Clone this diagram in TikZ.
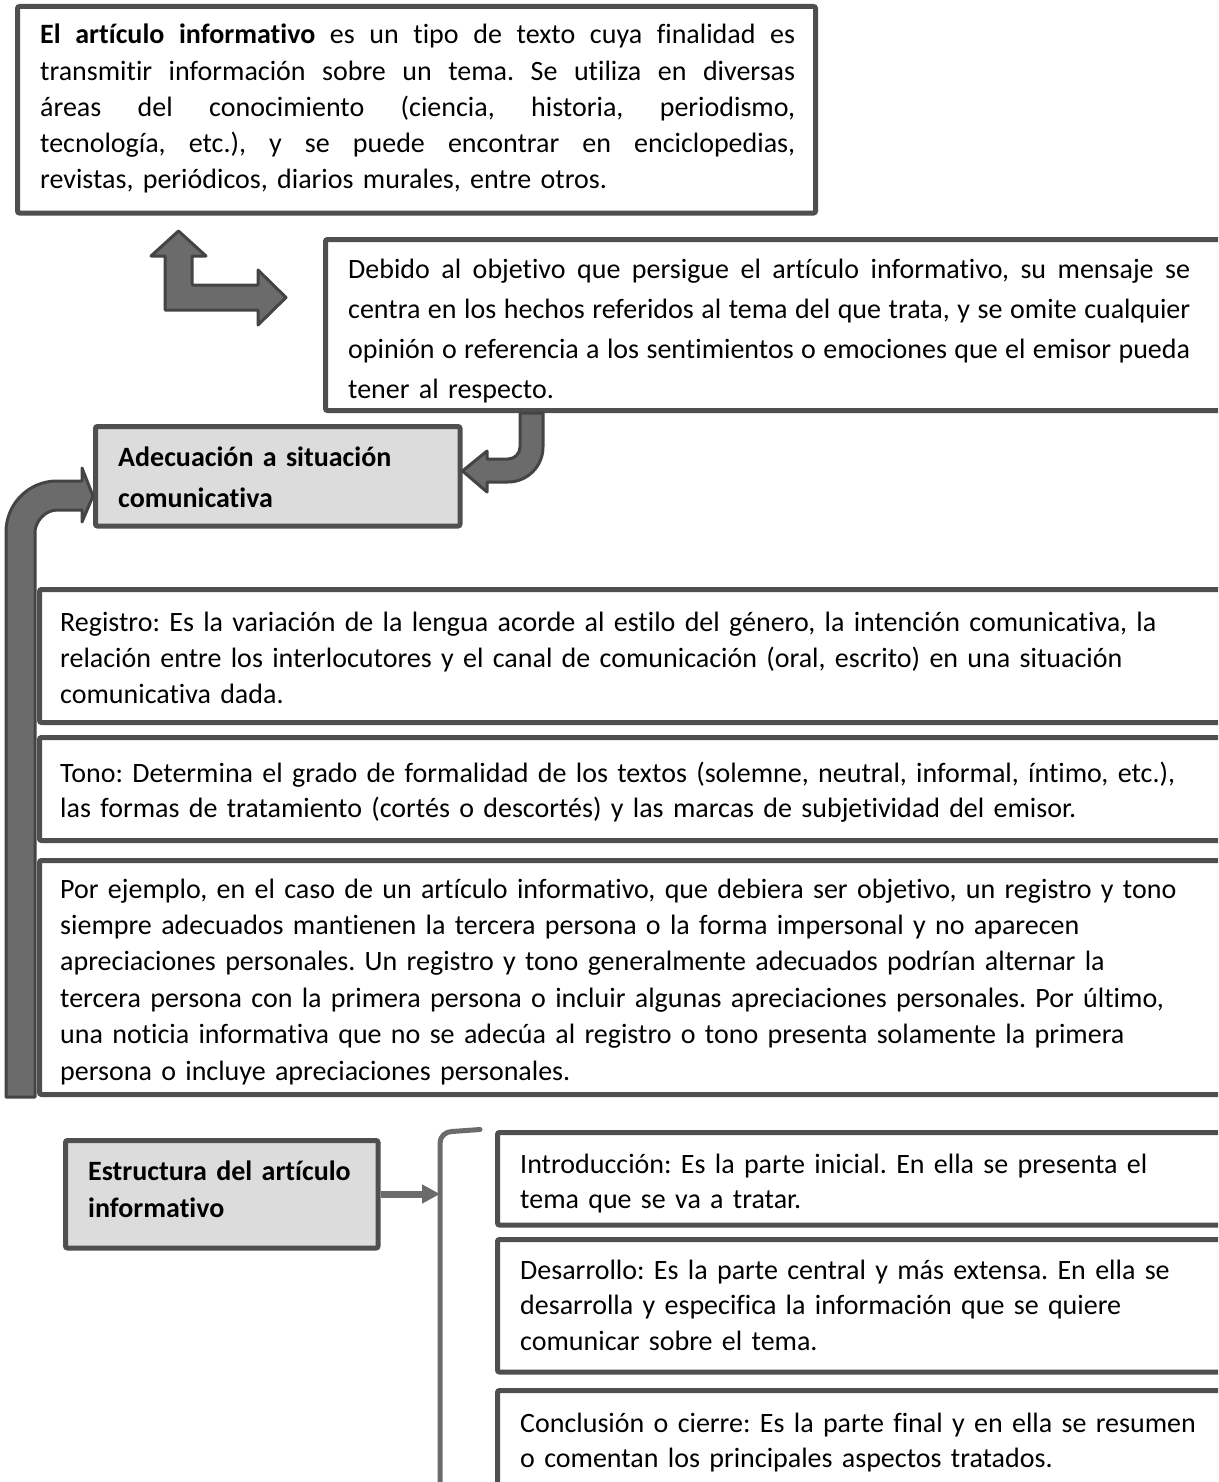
\documentclass[tikz,border=0pt]{standalone}
\usepackage{fontspec}
\setmainfont{Carlito}[Ligatures=NoCommon]
\usetikzlibrary{fit,arrows.meta}
\definecolor{bordc}{HTML}{4F4F4F}
\definecolor{arrfill}{HTML}{6B6B6B}
\definecolor{arrline}{HTML}{444444}
\definecolor{graybox}{HTML}{DCDCDC}
\definecolor{lnc}{HTML}{6B6B6B}
\newcommand\jbox[2]{\makebox[#1][s]{\spaceskip=0.226em plus 1fil minus 0.1em\relax #2}}
\begin{document}
\frenchspacing
\begin{tikzpicture}[x=1pt,y=-1pt,
  box/.style={draw=bordc, line width=5pt, rounded corners=2pt, inner sep=0pt, fill=white},
  gbox/.style={box, fill=graybox},
  txt/.style={anchor=base west, inner sep=0pt, font=\fontsize{28}{36.2}\selectfont, align=left},
  bigarrow/.style={fill=arrfill, draw=arrline, line width=3pt, line join=round},
  conn/.style={draw=lnc, line width=5pt},
]
\useasboundingbox (0,0) rectangle (1218,1482);
\clip (0,0) rectangle (1218,1482);
\fill[white] (0,0) rectangle (1218,1482);

% ---------- boxes ----------
\node[box, fit={(17.5,6.5) (815.5,213)}] (topbox) {};
\node[box, fit={(325.5,239.5) (1240,410.5)}] (objbox) {};
\node[gbox, fit={(95.5,426.5) (460,526)}] (adebox) {};
\node[box, fit={(39.5,589.5) (1240,722.5)}] (regbox) {};
\node[box, fit={(39.5,737.5) (1240,840.5)}] (tonbox) {};
\node[box, fit={(39.5,860.5) (1240,1094.5)}] (ejebox) {};
\node[gbox, fit={(65.5,1140.5) (378,1248)}] (estbox) {};
\node[box, fit={(497.5,1132.5) (1240,1225)}] (intbox) {};
\node[box, fit={(497.5,1239.5) (1240,1372)}] (desbox) {};
\node[box, fit={(497.5,1390.5) (1240,1520)}] (conbox) {};

% ---------- texts ----------
\node[txt, text width=755pt] (toptxt) at (40,44) {%
\jbox{755pt}{\textbf{El artículo informativo} es un tipo de texto cuya finalidad es}\\
\jbox{755pt}{transmitir información sobre un tema. Se utiliza en diversas}\\
\jbox{755pt}{áreas del conocimiento (ciencia, historia, periodismo,}\\
\jbox{755pt}{tecnología, etc.), y se puede encontrar en enciclopedias,}\\
revistas, periódicos, diarios murales, entre otros.};

\node[txt, text width=842pt, font=\fontsize{28}{40}\selectfont] (objtxt) at (348,278) {%
\jbox{842pt}{Debido al objetivo que persigue el artículo informativo, su mensaje se}\\
\jbox{842pt}{centra en los hechos referidos al tema del que trata, y se omite cualquier}\\
\jbox{842pt}{opinión o referencia a los sentimientos o emociones que el emisor pueda}\\
tener al respecto.};

\node[txt, text width=330pt, font=\bfseries\fontsize{28}{41}\selectfont] (adetxt) at (118,466) {%
Adecuación a situación\\comunicativa};

\node[txt, text width=1150pt] (regtxt) at (60,631) {%
Registro: Es la variación de la lengua acorde al estilo del género, la intención comunicativa, la\\
relación entre los interlocutores y el canal de comunicación (oral, escrito) en una situación\\
comunicativa dada.};

\node[txt, text width=1150pt, font=\fontsize{28}{35}\selectfont] (tontxt) at (60,782) {%
Tono: Determina el grado de formalidad de los textos (solemne, neutral, informal, íntimo, etc.),\\
las formas de tratamiento (cortés o descortés) y las marcas de subjetividad del emisor.};

\node[txt, text width=1150pt, font=\fontsize{28}{36.4}\selectfont] (ejetxt) at (60,898) {%
Por ejemplo, en el caso de un artículo informativo, que debiera ser objetivo, un registro y tono\\
siempre adecuados mantienen la tercera persona o la forma impersonal y no aparecen\\
apreciaciones personales. Un registro y tono generalmente adecuados podrían alternar la\\
tercera persona con la primera persona o incluir algunas apreciaciones personales. Por último,\\
una noticia informativa que no se adecúa al registro o tono presenta solamente la primera\\
persona o incluye apreciaciones personales.};

\node[txt, text width=290pt, font=\bfseries\fontsize{28}{37}\selectfont] (esttxt) at (88,1180) {%
Estructura del artículo\\informativo};

\node[txt, text width=690pt, font=\fontsize{28}{35.5}\selectfont] (inttxt) at (520,1173) {%
Introducción: Es la parte inicial. En ella se presenta el\\
tema que se va a tratar.};

\node[txt, text width=690pt, font=\fontsize{28}{35.5}\selectfont] (destxt) at (520,1279) {%
Desarrollo: Es la parte central y más extensa. En ella se\\
desarrolla y especifica la información que se quiere\\
comunicar sobre el tema.};

\node[txt, text width=690pt, font=\fontsize{28}{35.5}\selectfont] (contxt) at (520,1432) {%
Conclusión o cierre: Es la parte final y en ella se resumen\\
o comentan los principales aspectos tratados.};

% ---------- block arrows ----------
% up / right L-shaped arrow
\draw[bigarrow] (165,310) -- (165,256) -- (151,256) -- (178.5,231) -- (206,256) -- (192,256)
  -- (192,285) -- (258,285) -- (258,270) -- (286,297.5) -- (258,325) -- (258,310) -- cycle;

% bent arrow from objective box to Adecuación box
\draw[bigarrow] (520,413) -- (520,447) .. controls (520,453.6) and (514.6,459) .. (508,459)
  -- (487,459) -- (487,451) -- (adebox.east |- 0,471) -- (487,492) -- (487,482) -- (508,482)
  .. controls (527.3,482) and (543,466.3) .. (543,447) -- (543,413) -- cycle;

% big left arrow into Adecuación box
\draw[bigarrow] (6,1097) -- (6,532) .. controls (6,503.8) and (28.8,481) .. (57,481)
  -- (82,481) -- (82,468) -- (adebox.west |- 0,496) -- (82,522) -- (82,510) -- (57,510)
  .. controls (44.9,510) and (35,522.1) .. (35,532) -- (35,1097) -- cycle;

% ---------- bracket and arrow ----------
\coordinate (brk) at (440,1194);
\draw[conn, line cap=round] (480,1129.5) -- (452,1131.5) .. controls (445.4,1131.5) and (440,1136.6) .. (440,1143) -- (440,1500);
\draw[draw=lnc, line width=7pt, -{Triangle[length=18pt,width=18pt]}] (estbox.east |- brk) -- (brk);
\end{tikzpicture}
\end{document}
